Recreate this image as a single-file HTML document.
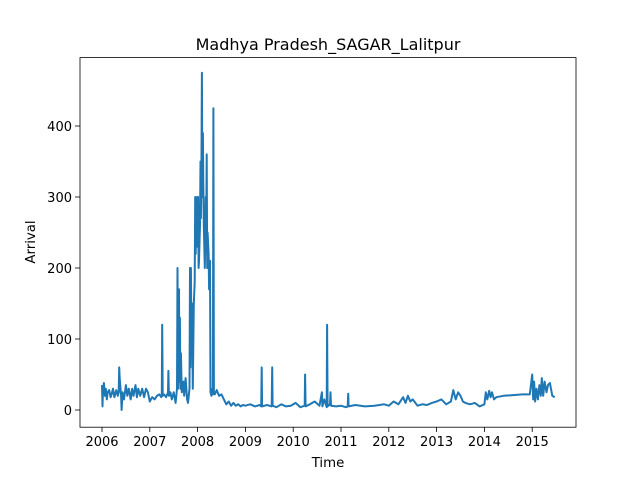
<!DOCTYPE html>
<html><head><meta charset="utf-8"><style>
body{margin:0;background:#fff}
svg text{font-family:"DejaVu Sans","Liberation Sans",sans-serif;fill:#000}
</style></head><body>
<svg id="chart" width="640" height="480">
<rect width="640" height="480" fill="#fff"/>
<text x="328" y="50" font-size="16" text-anchor="middle">Madhya Pradesh_SAGAR_Lalitpur</text>
<g id="plot"></g>
<rect x="80" y="57.6" width="496" height="369.6" fill="none" stroke="#000" stroke-width="0.8"/>
<g id="axes"></g>
<text x="328" y="467" font-size="13.3" text-anchor="middle">Time</text>
<text transform="translate(35,242) rotate(-90)" font-size="13.3" text-anchor="middle">Arrival</text>
</svg>
<script>
const times=[
2006.0,2006.01,2006.02,2006.04,2006.06,2006.08,2006.1,2006.12,2006.15,2006.18,
2006.2,2006.23,2006.26,2006.3,2006.33,2006.35,2006.36,2006.37,2006.4,2006.41,
2006.43,2006.46,2006.5,2006.53,2006.56,2006.6,2006.63,2006.66,2006.7,2006.73,
2006.76,2006.8,2006.84,2006.88,2006.92,2006.96,2007.0,2007.05,2007.1,2007.15,
2007.2,2007.24,2007.25,2007.26,2007.27,2007.3,2007.34,2007.38,2007.39,2007.4,
2007.43,2007.46,2007.5,2007.54,2007.57,2007.58,2007.59,2007.6,2007.61,2007.62,
2007.63,2007.64,2007.65,2007.67,2007.7,2007.72,2007.75,2007.78,2007.8,2007.83,
2007.84,2007.85,2007.86,2007.87,2007.88,2007.9,2007.92,2007.94,2007.95,2007.96,
2007.97,2007.98,2007.99,2008.0,2008.01,2008.02,2008.03,2008.05,2008.06,2008.07,
2008.08,2008.09,2008.1,2008.11,2008.12,2008.13,2008.15,2008.16,2008.17,2008.18,
2008.19,2008.2,2008.21,2008.23,2008.24,2008.26,2008.27,2008.29,2008.31,2008.32,
2008.33,2008.34,2008.36,2008.4,2008.45,2008.5,2008.55,2008.6,2008.65,2008.7,
2008.75,2008.8,2008.85,2008.9,2008.95,2009.0,2009.1,2009.2,2009.3,2009.33,
2009.34,2009.35,2009.45,2009.55,2009.56,2009.57,2009.65,2009.75,2009.85,2009.95,
2010.05,2010.15,2010.24,2010.25,2010.26,2010.35,2010.45,2010.55,2010.6,2010.61,
2010.65,2010.7,2010.71,2010.72,2010.77,2010.78,2010.79,2010.9,2011.0,2011.1,
2011.14,2011.15,2011.16,2011.3,2011.5,2011.7,2011.9,2012.0,2012.1,2012.2,
2012.3,2012.35,2012.4,2012.45,2012.5,2012.6,2012.7,2012.8,2012.9,2013.0,
2013.1,2013.2,2013.3,2013.35,2013.4,2013.45,2013.5,2013.55,2013.6,2013.7,
2013.8,2013.9,2014.0,2014.03,2014.06,2014.1,2014.13,2014.16,2014.2,2014.25,
2014.4,2014.6,2014.8,2014.95,2015.0,2015.02,2015.04,2015.06,2015.09,2015.12,
2015.15,2015.18,2015.2,2015.23,2015.26,2015.3,2015.33,2015.37,2015.42,2015.47];
const values=[
35,5,30,38,20,30,15,25,28,18,
22,30,18,28,20,25,60,45,20,0,
25,15,35,20,30,15,30,20,35,18,
30,20,30,18,30,25,12,18,15,20,
22,18,20,120,20,22,18,25,55,20,
25,15,25,10,30,200,30,60,170,40,
130,30,80,25,40,20,45,15,10,30,
200,60,200,100,150,30,150,180,300,220,
280,250,300,230,300,200,210,260,350,270,
330,475,300,390,320,260,200,230,300,250,
360,200,250,220,170,210,25,20,30,22,
425,25,22,28,20,22,15,8,12,6,
10,6,8,5,7,6,8,5,7,5,
60,5,7,5,60,6,4,8,5,6,
10,4,6,50,5,8,12,6,25,5,
15,4,120,5,8,25,6,5,6,4,
5,23,5,7,5,6,8,6,12,8,
18,10,20,12,15,6,8,7,10,12,
15,8,12,28,15,25,20,12,10,8,
10,5,8,25,15,27,18,25,15,18,
20,21,22,22,50,15,40,12,30,15,
35,20,45,20,40,25,35,38,20,18];
const yTicks=[0,100,200,300,400];
const xTicks=[2006,2007,2008,2009,2010,2011,2012,2013,2014,2015];
const X=t=>102+(t-2006)*47.8;
const Y=v=>410-v*0.71;
const NS='http://www.w3.org/2000/svg';
const plot=document.getElementById('plot'),axes=document.getElementById('axes');
let d='';
times.forEach((t,i)=>{d+=(i?'L':'M')+X(t).toFixed(1)+','+Y(values[i]).toFixed(1);});
const p=document.createElementNS(NS,'path');
p.setAttribute('d',d);p.setAttribute('fill','none');p.setAttribute('stroke','#1f77b4');p.setAttribute('stroke-width','2');p.setAttribute('stroke-linejoin','round');


plot.appendChild(p);
yTicks.forEach(v=>{
 const l=document.createElementNS(NS,'line');
 l.setAttribute('x1',75);l.setAttribute('x2',80);l.setAttribute('y1',Y(v));l.setAttribute('y2',Y(v));l.setAttribute('stroke','#000');l.setAttribute('stroke-width','0.8');
 
 
 axes.appendChild(l);
 const tx=document.createElementNS(NS,'text');
 tx.setAttribute('x',72);tx.setAttribute('y',Y(v)+5);tx.setAttribute('font-size','13');tx.setAttribute('text-anchor','end');tx.textContent=v;
 
 
 axes.appendChild(tx);
});
xTicks.forEach(t=>{
 const l=document.createElementNS(NS,'line');
 l.setAttribute('x1',X(t));l.setAttribute('x2',X(t));l.setAttribute('y1',427.2);l.setAttribute('y2',432);l.setAttribute('stroke','#000');l.setAttribute('stroke-width','0.8');
 
 
 axes.appendChild(l);
 const tx=document.createElementNS(NS,'text');
 tx.setAttribute('x',X(t));tx.setAttribute('y',446);tx.setAttribute('font-size','13');tx.setAttribute('text-anchor','middle');tx.textContent=t;
 
 
 axes.appendChild(tx);
});
</script>
</body></html>
